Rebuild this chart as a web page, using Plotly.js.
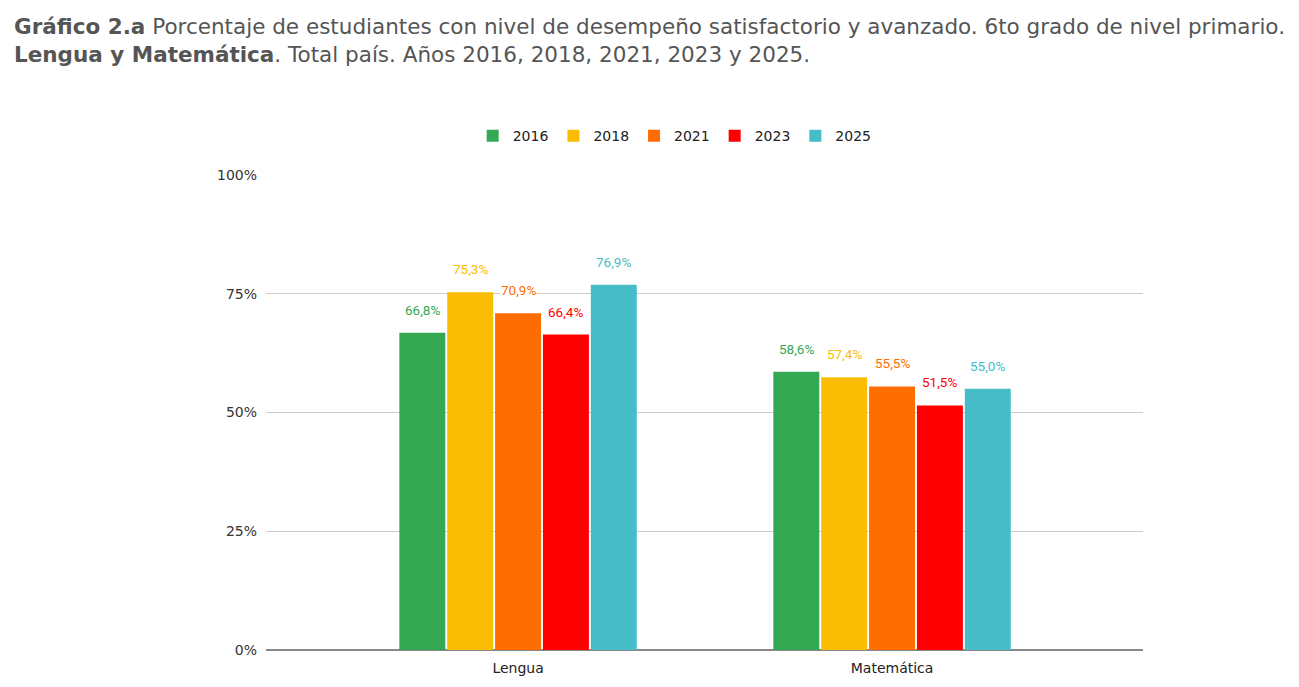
<!DOCTYPE html>
<html><head><meta charset="utf-8">
<script src="https://cdn.plot.ly/plotly-3.0.1.min.js"></script>
<style>body{margin:0;background:#fff}#c{width:1299px;height:687px}</style>
</head><body><div id="c"></div>
<script>
const categories = ["Lengua", "Matemática"];
const years = ["2016", "2018", "2021", "2023", "2025"];
const v2016 = [66.8, 58.6];
const v2018 = [75.3, 57.4];
const v2021 = [70.9, 55.5];
const v2023 = [66.4, 51.5];
const v2025 = [76.9, 55.0];
const colors = ["#34a853", "#fbbc04", "#ff6d01", "#ff0000", "#46bdc6"];
const yTicks = [0, 25, 50, 75, 100];
const yTickLabels = ["0%", "25%", "50%", "75%", "100%"];

const series = [v2016, v2018, v2021, v2023, v2025];
const bargap = 0.36;
const fmt = v => v.toFixed(1).replace('.', ',') + '%';

const traces = series.map((vals, i) => ({
  type: 'bar', name: years[i], x: categories, y: vals,
  marker: {color: colors[i]}, hoverinfo: 'none'
}));

const slot = (1 - bargap) / series.length;
const annotations = [];
series.forEach((vals, i) => {
  vals.forEach((v, j) => {
    annotations.push({
      xref: 'x', yref: 'y', x: j + (i - (series.length - 1) / 2) * slot, y: v,
      text: fmt(v), showarrow: false, yanchor: 'bottom', yshift: 14,
      bgcolor: '#ffffff', borderpad: 0,
      font: {family: 'Roboto, sans-serif', size: 13.5, color: colors[i]}
    });
  });
});

const layout = {
  width: 1299, height: 687,
  margin: {l: 266, r: 156, t: 175, b: 37},
  paper_bgcolor: '#fff', plot_bgcolor: '#fff',
  title: {
    text: '<b>Gráfico 2.a</b> Porcentaje de estudiantes con nivel de desempeño satisfactorio y avanzado. 6to grado de nivel primario.<br><b>Lengua y Matemática</b>. Total país. Años 2016, 2018, 2021, 2023 y 2025.',
    x: 14 / 1299, xanchor: 'left', xref: 'container',
    y: 1 - 34 / 687, yanchor: 'top', yref: 'container',
    font: {family: 'DejaVu Sans, sans-serif', size: 21.5, color: '#555'}
  },
  barmode: 'group', bargap: bargap, bargroupgap: 0.04,
  showlegend: true,
  legend: {orientation: 'h', x: 0.466, xanchor: 'center', y: 1.082, yanchor: 'middle',
    font: {family: 'DejaVu Sans, sans-serif', size: 14, color: '#222'}, traceorder: 'normal'},
  xaxis: {
    type: 'category', range: [-0.674, 1.671], showgrid: false,
    showline: false, ticks: '', ticklabelstandoff: 8,
    tickfont: {family: 'DejaVu Sans, sans-serif', size: 14, color: '#222'},
    fixedrange: true
  },
  yaxis: {
    range: [0, 100], tickvals: yTicks, ticktext: yTickLabels,
    showgrid: true, gridcolor: '#cccccc', gridwidth: 1,
    zeroline: true, zerolinecolor: '#888888', zerolinewidth: 1.5,
    ticks: '', ticklabelstandoff: 8,
    tickfont: {family: 'DejaVu Sans, sans-serif', size: 14, color: '#333'}
  },
  annotations: annotations
};
Plotly.newPlot('c', traces, layout, {displayModeBar: false, staticPlot: true});
</script></body></html>
